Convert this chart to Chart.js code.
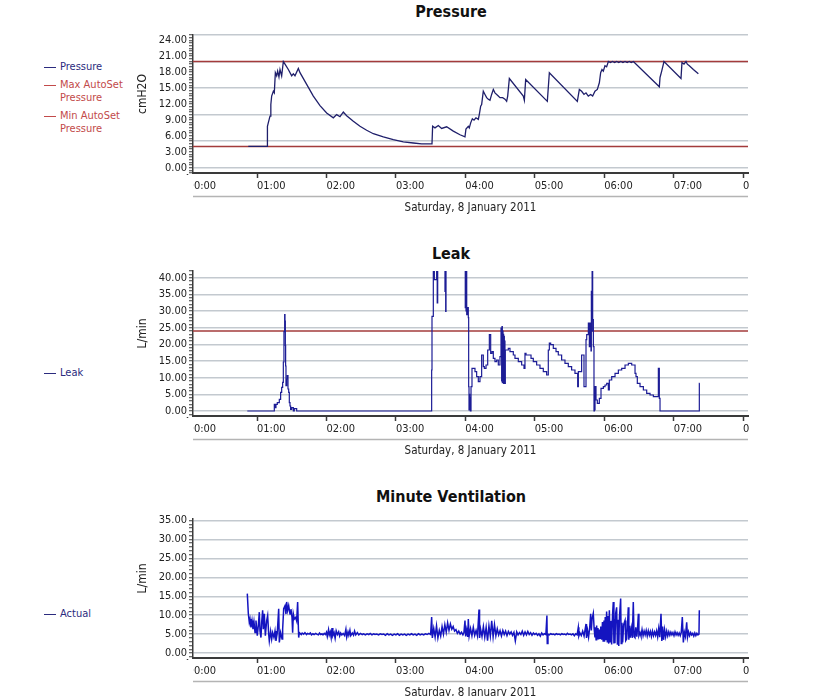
<!DOCTYPE html>
<html>
<head>
<meta charset="utf-8">
<title>Pressure, Leak, Minute Ventilation</title>
<script src="https://cdn.jsdelivr.net/npm/chart.js@4.4.1/dist/chart.umd.min.js"></script>
<style>
  html, body { margin: 0; padding: 0; background: #fff; overflow: hidden; }
  body { width: 822px; height: 696px; position: relative; font-family: "DejaVu Sans Condensed", "DejaVu Sans", sans-serif; }
  canvas { position: absolute; left: 0; }
  .title { position: absolute; left: 451px; transform: translate(-50%, -50%); font-weight: bold; font-size: 16px; color: #111; white-space: nowrap; }
  .legend { position: absolute; left: 44px; padding-left: 16px; font-size: 11px; line-height: 13px; white-space: nowrap; }
  .legend::before { content: ''; position: absolute; left: 0; top: 7px; width: 12px; height: 1px; background: currentColor; }
  .navy { color: #2b2b7e; }
  .red { color: #c24a4a; }
</style>
</head>
<body>
<div class="title" style="top:11px">Pressure</div>
<div class="title" style="top:253px">Leak</div>
<div class="title" style="top:496px">Minute Ventilation</div>

<div class="legend navy" style="top:60px">Pressure</div>
<div class="legend red" style="top:78px">Max AutoSet<br>Pressure</div>
<div class="legend red" style="top:109px">Min AutoSet<br>Pressure</div>
<div class="legend navy" style="top:366px">Leak</div>
<div class="legend navy" style="top:607px">Actual</div>

<canvas id="pressureChart" width="822" height="232" style="top:0"></canvas>
<canvas id="leakChart" width="822" height="232" style="top:240px"></canvas>
<canvas id="mvChart" width="822" height="230" style="top:480px"></canvas>

<script>
// time axis (hours after midnight)
const hourTicks = [0, 1, 2, 3, 4, 5, 6, 7, 8];
const xMin = 0.078, xMax = 8.071;
const dateLabel = 'Saturday, 8 January 2011';

const maxAutoSet = 20;
const minAutoSet = 4;
const leakLimit = 24;

// [hour, cmH2O]
const pressurePoints = [
  [0.874,4.0],[1.148,4.0],[1.150,7.8],[1.163,8.5],[1.187,9.7],[1.199,11.9],[1.211,13.5],[1.235,14.4],
  [1.249,14.1],[1.264,17.9],[1.283,17.3],[1.297,18.2],[1.316,17.1],[1.331,18.5],[1.355,17.3],[1.379,20.0],
  [1.403,19.5],[1.451,18.5],[1.499,17.3],[1.523,17.7],[1.547,17.3],[1.595,18.7],[1.619,17.9],[1.715,15.7],
  [1.811,13.5],[1.907,11.7],[2.003,10.3],[2.099,9.4],[2.147,10.0],[2.195,9.6],[2.243,10.5],[2.291,9.8],
  [2.387,8.75],[2.483,7.8],[2.579,7.05],[2.675,6.4],[2.819,5.8],[2.963,5.3],[3.107,4.85],[3.251,4.65],
  [3.371,4.5],[3.520,4.5],[3.529,7.8],[3.563,7.5],[3.611,7.95],[3.659,7.4],[3.731,7.7],[3.827,6.9],
  [3.923,6.2],[3.995,5.8],[4.009,7.3],[4.043,7.8],[4.057,7.5],[4.077,8.45],[4.101,9.2],[4.125,8.95],
  [4.153,9.4],[4.187,9.1],[4.201,10.0],[4.221,11.6],[4.235,11.9],[4.259,14.4],[4.283,13.8],[4.307,13.2],
  [4.331,12.9],[4.355,12.7],[4.379,13.8],[4.403,14.75],[4.427,14.1],[4.475,13.5],[4.499,13.2],[4.538,13.2],
  [4.571,12.9],[4.595,12.5],[4.610,13.5],[4.634,16.8],[4.835,13.5],[4.850,12.7],[4.869,16.6],[5.181,12.5],
  [5.210,17.9],[5.613,12.5],[5.642,14.75],[5.675,14.4],[5.709,13.8],[5.738,14.1],[5.771,13.5],[5.805,13.8],
  [5.834,13.5],[5.867,14.4],[5.901,14.75],[5.930,16.0],[5.949,17.9],[5.968,18.5],[5.987,18.2],[6.011,19.2],
  [6.035,19.0],[6.060,20.0],[6.09,19.8],[6.12,20.0],[6.15,19.8],[6.18,20.0],[6.21,19.8],[6.24,20.0],
  [6.27,19.8],[6.30,20.0],[6.33,19.8],[6.36,20.0],[6.39,19.8],[6.420,20.0],[6.794,15.25],[6.804,17.0],
  [6.828,18.2],[6.861,20.0],[7.106,16.8],[7.120,19.8],[7.149,19.5],[7.178,20.0],[7.197,19.5],[7.226,19.2],
  [7.284,18.5],[7.356,17.7]
];

// [hour, L/min]
const leakPoints = [
  [0.860,0],[1.249,0],[1.259,2.0],[1.273,1.0],[1.292,2.0],[1.321,2.5],[1.340,3.5],[1.355,5.6],[1.369,7.1],
  [1.379,8.6],[1.388,14.7],[1.398,23.8],[1.403,28.9],[1.408,27.0],[1.412,19.7],[1.417,13.5],[1.427,7.6],
  [1.436,9.6],[1.446,10.6],[1.456,6.6],[1.465,5.6],[1.475,2.5],[1.484,1.5],[1.499,0.5],[1.523,1.0],
  [1.537,0],[1.571,0.7],[1.580,0],[3.515,0],[3.520,12.3],[3.539,28.4],[3.554,45],[3.587,39.4],[3.595,45],
  [3.602,32.4],[3.607,45],[3.707,45],[3.712,35.9],[3.717,45],[3.722,29.9],[3.727,45],[3.999,45],
  [4.005,31.0],[4.010,44],[4.015,30.0],[4.020,42],[4.030,28.9],[4.043,31.0],[4.048,28.0],[4.053,7.3],
  [4.058,0.3],[4.063,5.0],[4.067,0.5],[4.072,4.0],[4.082,0],[4.096,7.3],[4.106,12.8],[4.139,12.8],
  [4.163,11.8],[4.187,10.3],[4.211,8.8],[4.235,10.3],[4.259,16.8],[4.274,13.3],[4.298,12.8],[4.322,13.8],
  [4.346,18.3],[4.365,22.9],[4.384,17.3],[4.403,17.8],[4.427,15.8],[4.451,14.8],[4.475,15.3],[4.499,13.8],
  [4.514,16.3],[4.523,24.9],[4.528,9.0],[4.533,25.3],[4.538,8.5],[4.543,24.0],[4.547,10.0],[4.552,23.0],
  [4.557,8.3],[4.562,22.4],[4.567,9.0],[4.571,21.0],[4.576,8.3],[4.586,18.3],[4.619,18.3],[4.643,18.8],
  [4.691,17.8],[4.715,16.8],[4.763,15.8],[4.811,14.8],[4.845,13.8],[4.859,12.8],[4.874,17.3],[4.907,16.8],
  [4.946,16.8],[4.979,15.8],[5.027,14.8],[5.075,13.8],[5.123,12.8],[5.171,11.8],[5.195,10.8],[5.210,18.3],
  [5.229,20.4],[5.267,19.9],[5.306,18.8],[5.339,17.8],[5.387,16.8],[5.435,15.3],[5.483,14.3],[5.531,13.3],
  [5.579,12.3],[5.618,11.3],[5.628,7.3],[5.652,11.8],[5.675,11.8],[5.709,16.8],[5.723,7.3],[5.738,7.3],
  [5.748,21.4],[5.772,22.9],[5.786,26.4],[5.796,19.3],[5.810,26.4],[5.815,18.0],[5.820,35.9],[5.826,24.0],
  [5.834,42],[5.844,27.4],[5.853,19.3],[5.858,0],[5.868,0.3],[5.882,7.3],[5.901,3.3],[5.930,2.3],
  [5.954,3.8],[5.988,6.8],[6.012,7.3],[6.036,7.8],[6.060,8.3],[6.074,6.3],[6.108,9.3],[6.156,10.3],
  [6.204,11.3],[6.252,12.3],[6.300,12.8],[6.348,13.8],[6.396,14.3],[6.444,13.8],[6.458,11.3],[6.477,10.3],
  [6.516,8.3],[6.564,7.3],[6.612,6.3],[6.660,5.3],[6.708,4.8],[6.732,4.3],[6.780,4.3],[6.794,12.8],
  [6.804,3.8],[6.813,0],[7.370,0],[7.375,8.3]
];

// [hour, L/min]
const mvPoints = [
  [0.860,15.7],[0.875,10.4],[0.889,8.1],[0.899,9.0],[0.913,6.8],[0.928,8.6],[0.942,6.3],[0.956,8.3],
  [0.971,5.4],[0.985,8.6],[1.004,4.6],[1.019,7.3],[1.033,10.8],[1.043,5.8],[1.057,4.1],[1.067,8.1],
  [1.081,11.3],[1.091,6.3],[1.105,10.4],[1.120,4.6],[1.139,8.6],[1.153,9.9],[1.168,5.0],[1.177,3.2],
  [1.196,5.8],[1.211,3.7],[1.225,5.4],[1.244,4.1],[1.259,5.8],[1.273,3.2],[1.292,5.4],[1.312,11.7],
  [1.321,2.8],[1.340,5.4],[1.360,3.7],[1.369,6.3],[1.384,11.7],[1.403,12.5],[1.417,10.3],[1.427,13.5],
  [1.441,11.2],[1.456,12.5],[1.475,10.3],[1.489,11.6],[1.504,9.4],[1.513,5.4],[1.523,10.3],[1.537,9.0],
  [1.556,9.4],[1.571,8.5],[1.585,13.5],[1.600,4.1],[1.609,5.4],
  [1.620,5.2],[1.638,4.9],[1.650,5.3],[1.672,5.0],[1.690,5.4],[1.712,4.9],[1.728,5.2],[1.750,5.0],
  [1.768,5.3],[1.785,4.8],[1.806,5.1],[1.822,4.9],[1.845,5.2],[1.860,5.0],[1.884,4.8],[1.900,5.3],
  [1.918,4.9],[1.935,5.1],[1.950,4.8],[1.968,5.2],[1.985,4.9],[2.000,5.5],[2.012,4.4],[2.030,6.2],
  [2.041,4.8],[2.055,5.6],[2.068,4.1],[2.080,6.6],[2.092,4.6],[2.110,5.4],[2.125,3.9],[2.140,5.9],
  [2.158,4.9],[2.176,5.6],[2.190,4.5],[2.205,5.3],[2.222,4.8],[2.240,5.2],[2.262,4.6],[2.280,6.3],
  [2.292,4.2],[2.310,5.6],[2.322,4.7],[2.338,6.0],[2.350,4.6],[2.372,5.3],[2.390,4.7],[2.405,5.8],
  [2.422,4.8],[2.445,5.4],[2.465,4.8],[2.490,5.2],[2.515,4.9],[2.535,5.1],[2.560,4.8],[2.585,5.1],
  [2.610,4.9],[2.630,5.2],[2.655,4.8],[2.680,5.1],[2.700,4.9],[2.725,5.0],[2.750,4.8],[2.775,5.1],
  [2.800,4.9],[2.825,5.0],[2.850,4.7],[2.875,5.1],[2.900,4.8],[2.925,5.0],[2.950,4.7],[2.975,5.0],
  [3.000,4.8],[3.025,5.1],[3.050,4.7],[3.075,5.0],[3.100,4.8],[3.125,5.0],[3.150,4.7],[3.175,5.0],
  [3.200,4.8],[3.225,5.1],[3.250,4.8],[3.275,5.0],[3.300,4.7],[3.325,5.1],[3.350,4.8],[3.375,5.0],
  [3.400,4.8],[3.425,5.1],[3.450,4.9],[3.475,5.2],[3.500,4.9],
  [3.515,9.5],[3.525,4.0],[3.545,6.5],[3.565,4.2],[3.585,7.2],[3.605,4.0],[3.625,6.0],[3.645,4.5],
  [3.665,7.0],[3.685,5.0],[3.705,7.5],[3.725,5.5],[3.745,8.0],[3.765,6.0],[3.785,7.7],[3.805,6.3],
  [3.825,7.0],[3.845,5.8],[3.865,6.2],[3.885,5.2],[3.905,5.8],[3.925,5.0],[3.945,5.5],[3.965,4.8],
  [3.980,5.4],[3.995,8.6],[4.005,4.4],[4.020,6.2],[4.035,4.3],[4.043,9.0],[4.055,4.5],[4.075,6.5],
  [4.095,4.6],[4.115,6.8],[4.135,4.7],[4.155,6.0],[4.175,4.5],[4.197,11.5],[4.205,4.0],[4.220,6.3],
  [4.240,4.4],[4.260,7.0],[4.280,4.2],[4.300,6.8],[4.320,3.3],[4.340,7.2],[4.360,4.5],[4.380,8.5],
  [4.400,4.3],[4.420,7.5],[4.440,4.6],[4.460,6.4],[4.480,4.8],[4.500,5.9],[4.520,4.5],[4.540,6.0],
  [4.560,4.9],[4.580,5.8],[4.600,4.6],[4.620,5.7],[4.640,5.0],[4.660,5.6],[4.680,4.7],[4.700,5.5],
  [4.720,3.2],[4.740,5.6],[4.760,4.8],[4.780,5.4],[4.800,4.9],[4.820,5.8],[4.840,4.7],[4.860,5.6],
  [4.880,4.8],[4.900,5.7],[4.920,4.9],[4.940,5.4],[4.960,4.7],[4.980,5.3],[5.000,4.9],[5.020,5.2],
  [5.040,4.7],[5.060,5.1],[5.080,4.5],[5.100,5.3],[5.120,4.8],[5.140,5.1],[5.160,4.9],[5.175,9.9],
  [5.180,2.5],[5.190,5.0],[5.210,4.8],[5.230,5.1],[5.250,4.9],[5.270,5.0],[5.290,4.8],[5.310,5.1],
  [5.330,4.9],[5.350,5.0],[5.370,4.8],[5.390,5.1],[5.410,4.9],[5.430,5.0],[5.450,4.8],[5.470,5.2],
  [5.490,4.9],[5.510,5.0],[5.530,4.8],[5.550,5.1],[5.570,4.6],[5.590,5.1],[5.610,4.8],[5.627,6.8],
  [5.635,4.5],[5.650,5.3],[5.670,4.6],[5.690,5.8],[5.710,4.5],[5.738,7.7],[5.745,4.0],[5.760,6.0],
  [5.775,4.2],[5.790,6.5],[5.805,10.4],[5.815,6.0],[5.825,9.0],[5.843,10.5],[5.855,6.5],[5.867,4.1],
  [5.875,6.8],[5.883,3.5],[5.891,7.3],[5.900,3.8],[5.910,6.6],[5.920,3.6],[5.930,6.2],[5.940,3.9],
  [5.950,7.0],[5.963,3.5],[5.975,8.2],[5.985,3.2],[5.997,8.6],[6.005,3.0],[6.015,9.5],[6.025,3.4],
  [6.035,11.0],[6.045,2.8],[6.055,9.8],[6.065,2.5],[6.074,11.3],[6.085,3.0],[6.095,8.5],[6.107,2.3],
  [6.120,10.0],[6.131,13.5],[6.140,2.5],[6.148,9.0],[6.155,2.6],[6.165,10.5],[6.179,12.1],[6.190,2.2],
  [6.200,8.8],[6.210,1.9],[6.220,9.5],[6.237,14.4],[6.245,2.5],[6.255,8.0],[6.266,2.8],[6.280,7.5],
  [6.300,8.6],[6.310,3.3],[6.324,3.7],[6.335,7.0],[6.347,12.1],[6.355,3.5],[6.365,7.2],[6.375,4.1],
  [6.390,6.5],[6.405,4.0],[6.419,13.5],[6.430,4.4],[6.443,4.1],[6.455,6.8],[6.470,4.3],[6.480,6.5],
  [6.492,10.4],[6.500,4.6],[6.516,5.4],[6.530,4.5],[6.545,6.2],[6.560,4.6],[6.575,5.8],[6.590,4.8],
  [6.605,6.0],[6.620,4.5],[6.635,5.9],[6.650,4.7],[6.665,5.7],[6.680,4.4],[6.695,5.8],[6.710,4.6],
  [6.725,5.6],[6.740,4.7],[6.755,5.9],[6.770,4.3],[6.785,6.5],[6.800,4.2],[6.818,10.4],[6.830,3.2],
  [6.842,7.0],[6.855,3.5],[6.870,6.2],[6.885,4.3],[6.900,5.8],[6.915,4.5],[6.930,5.6],[6.945,4.7],
  [6.960,5.5],[6.975,4.8],[6.990,5.4],[7.005,4.6],[7.020,5.6],[7.035,4.8],[7.050,5.4],[7.065,4.7],
  [7.080,5.3],[7.095,4.6],[7.110,5.5],[7.125,9.5],[7.140,2.8],[7.155,5.5],[7.170,4.4],[7.188,8.1],
  [7.200,4.2],[7.215,5.6],[7.230,4.6],[7.245,5.4],[7.260,4.8],[7.275,5.2],[7.290,4.5],[7.305,5.3],
  [7.320,4.6],[7.335,5.2],[7.350,4.8],[7.365,5.0],[7.370,11.3]
];

const font = { family: '"DejaVu Sans Condensed", "DejaVu Sans", sans-serif', size: 11 };
const gridColor = '#c3c9cf';
const axisColor = '#3a3a3a';
const textColor = '#222';

function toXY(points) {
  return points.map(p => ({ x: p[0], y: p[1] }));
}
function flat(v) {
  return [{ x: xMin, y: v }, { x: xMax, y: v }];
}
function isMark(v, every) {
  const r = v / every;
  return Math.abs(r - Math.round(r)) < 1e-6;
}
function hh(v) {
  return (v < 10 ? '0' : '') + v + ':00';
}

// clip the hour labels to the plot width, draw the rule under them
// and the unit title beside the y axis (sits a little above centre)
const axisTrim = {
  id: 'axisTrim',
  afterDraw(chart, args, opts) {
    const { ctx, chartArea: a, width } = chart;
    ctx.save();
    ctx.fillStyle = '#fff';
    ctx.fillRect(0, a.bottom + 2, a.left, 20);
    ctx.fillRect(a.right + 1, a.bottom + 2, width - a.right, 20);
    ctx.strokeStyle = '#b4b4b4';
    ctx.lineWidth = 1.5;
    ctx.beginPath();
    ctx.moveTo(a.left, a.bottom + 23.5);
    ctx.lineTo(a.right, a.bottom + 23.5);
    ctx.stroke();

    ctx.translate(a.left - 50.5, (a.top + a.bottom) / 2 - 10);
    ctx.rotate(-Math.PI / 2);
    ctx.fillStyle = textColor;
    ctx.font = '12px ' + font.family;
    ctx.textAlign = 'center';
    ctx.textBaseline = 'middle';
    ctx.fillText(opts.unit, 0, 0);
    ctx.restore();
  }
};

function scales(y) {
  return {
    x: {
      type: 'linear',
      min: xMin,
      max: xMax,
      afterBuildTicks: s => { s.ticks = hourTicks.map(v => ({ value: v })); },
      afterFit: s => { s.height = 42; },
      ticks: { autoSkip: false, align: 'start', maxRotation: 0, padding: 2, color: textColor, font, callback: v => hh(v) },
      grid: { drawOnChartArea: false, tickLength: 5, tickColor: axisColor, tickWidth: 1.5 },
      border: { color: axisColor, width: 2 },
      title: { display: true, text: dateLabel, color: textColor, font: { family: font.family, size: 11.5 }, padding: 0 }
    },
    y: {
      min: y.min,
      max: y.max,
      afterFit: s => { s.width = 58; },
      ticks: {
        stepSize: y.minor, autoSkip: false, includeBounds: false, padding: 2, color: textColor, font,
        callback: v => (v >= 0 && isMark(v, y.label) ? v.toFixed(2) : '')
      },
      grid: {
        color: c => (c.tick && c.tick.value >= 0 && isMark(c.tick.value, y.grid) ? gridColor : 'rgba(0,0,0,0)'),
        lineWidth: 1.5, tickLength: 4, tickWidth: 1, tickColor: axisColor
      },
      border: { color: axisColor, width: 1.5 }
    }
  };
}

function options(padding, y) {
  return {
    responsive: false,
    animation: false,
    devicePixelRatio: 1,
    events: [],
    elements: { point: { radius: 0 }, line: { tension: 0 } },
    layout: { padding },
    scales: scales(y),
    plugins: { legend: { display: false }, tooltip: { enabled: false }, axisTrim: { unit: y.title } }
  };
}

// Pressure
new Chart(document.getElementById('pressureChart'), {
  type: 'line',
  data: {
    datasets: [
      { label: 'Pressure', data: toXY(pressurePoints), borderColor: '#1f1f6b', borderWidth: 1.3 },
      { label: 'Max AutoSet Pressure', data: flat(maxAutoSet), borderColor: '#a33b3b', borderWidth: 1.5 },
      { label: 'Min AutoSet Pressure', data: flat(minAutoSet), borderColor: '#a33b3b', borderWidth: 1.5 }
    ]
  },
  options: options({ top: 35, left: 135, right: 74, bottom: 17 },
    { min: -1, max: 25, minor: 0.5, label: 3, grid: 5, title: 'cmH2O' }),
  plugins: [axisTrim]
});

// Leak
new Chart(document.getElementById('leakChart'), {
  type: 'line',
  data: {
    datasets: [
      { label: 'Leak', data: toXY(leakPoints), borderColor: '#1d1d96', borderWidth: 1.2, stepped: 'after' },
      { label: 'Leak limit', data: flat(leakLimit), borderColor: '#a33b3b', borderWidth: 1.5 }
    ]
  },
  options: options({ top: 31, left: 135, right: 74, bottom: 14 },
    { min: -1.5, max: 42, minor: 1, label: 5, grid: 5, title: 'L/min' }),
  plugins: [axisTrim]
});

// Minute Ventilation
new Chart(document.getElementById('mvChart'), {
  type: 'line',
  data: {
    datasets: [
      { label: 'Actual', data: toXY(mvPoints), borderColor: '#1414c0', borderWidth: 1.5 }
    ]
  },
  options: options({ top: 39, left: 135, right: 74, bottom: 10 },
    { min: -1.3, max: 35.4, minor: 1, label: 5, grid: 5, title: 'L/min' }),
  plugins: [axisTrim]
});
</script>
</body>
</html>
